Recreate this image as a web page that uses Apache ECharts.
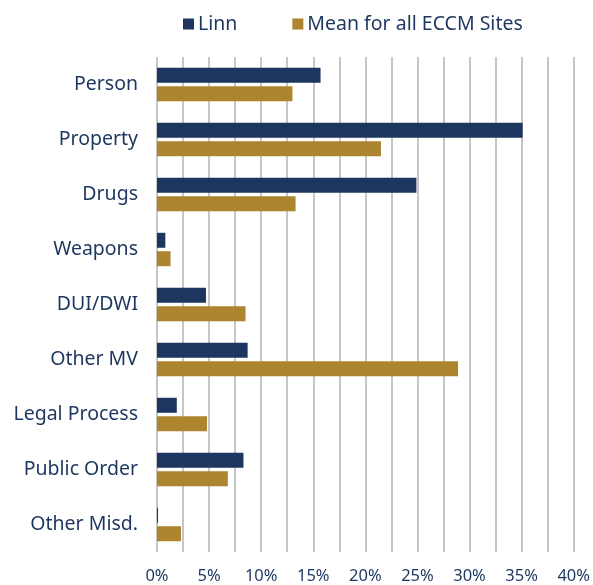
<!DOCTYPE html>
<html lang="en">
<head>
    <meta charset="utf-8">
    <title>Linn vs ECCM</title>
    <script type="text/javascript" src="https://cdn.jsdelivr.net/npm/echarts@6/dist/echarts.min.js"></script>
    <style>
        html, body { margin: 0; padding: 0; background: #fff; overflow: hidden; }
        #chartMain { width: 593px; height: 585px; }
    </style>
</head>
<body>
    <div id="chartMain"></div>
    <script type="text/javascript">
        var categories = ['Person', 'Property', 'Drugs', 'Weapons', 'DUI/DWI', 'Other MV', 'Legal Process', 'Public Order', 'Other Misd.'];
        var linn = [15.7, 35.1, 24.9, 0.8, 4.7, 8.7, 1.9, 8.3, 0.1];
        var eccmMean = [13.0, 21.5, 13.3, 1.3, 8.5, 28.9, 4.8, 6.8, 2.3];
        var seriesNames = ['Linn', 'Mean for all ECCM Sites'];

        var navy = '#1d365f';
        var gold = '#ad852f';
        var textFont = '"Noto Sans", sans-serif';

        var chart = echarts.init(document.getElementById('chartMain'));
        chart.setOption({
            animation: false,
            legend: {
                data: seriesNames,
                icon: 'rect',
                left: 178,
                top: 9,
                itemWidth: 11,
                itemHeight: 11,
                itemGap: 55,
                textStyle: { color: navy, fontSize: 19.5, fontFamily: textFont, padding: [0, 0, 0, -1] }
            },
            grid: { left: 157, right: 12, top: 57, bottom: 30 },
            xAxis: {
                type: 'value',
                min: 0,
                max: 40,
                interval: 2.5,
                axisLine: { show: false },
                axisTick: { show: false },
                splitLine: { lineStyle: { color: '#b3b3b3', width: 1.5 } },
                axisLabel: {
                    color: navy,
                    fontSize: 16.5,
                    fontFamily: textFont,
                    margin: 16,
                    formatter: function (v) {
                        return v % 5 === 0 ? v + '%' : '';
                    }
                }
            },
            yAxis: {
                type: 'category',
                inverse: true,
                data: categories,
                axisLine: { show: false },
                axisTick: { show: false },
                axisLabel: { color: navy, fontSize: 19.5, fontFamily: textFont, margin: 19 }
            },
            series: [{
                name: seriesNames[0],
                type: 'bar',
                data: linn,
                barWidth: 15,
                barGap: '23%',
                itemStyle: { color: navy }
            }, {
                name: seriesNames[1],
                type: 'bar',
                data: eccmMean,
                barWidth: 15,
                itemStyle: { color: gold }
            }]
        });
    </script>
</body>
</html>
